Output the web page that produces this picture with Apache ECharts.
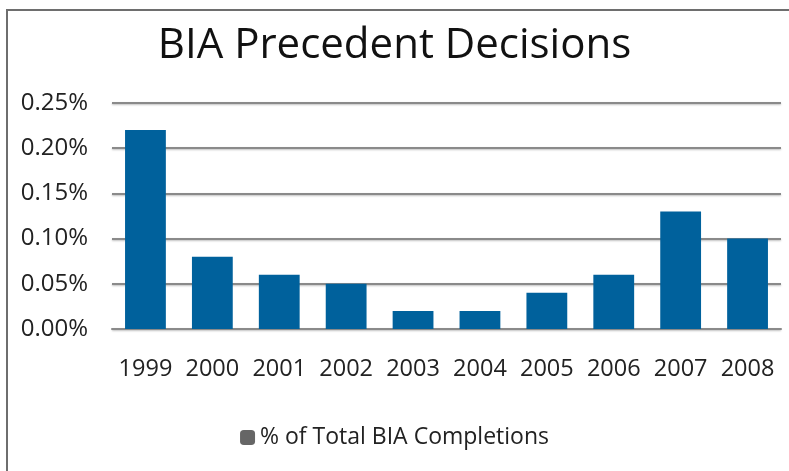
<!DOCTYPE html>
<html>
<head>
<meta charset="utf-8">
<script src="https://cdn.jsdelivr.net/npm/echarts@6/dist/echarts.min.js"></script>
<style>
  html, body { margin: 0; padding: 0; background: #fff; }
  #chart { width: 789px; height: 471px; }
</style>
</head>
<body>
<div id="chart"></div>
<script>
const years = ["1999", "2000", "2001", "2002", "2003", "2004", "2005", "2006", "2007", "2008"];
const pctOfCompletions = [0.22, 0.08, 0.06, 0.05, 0.02, 0.02, 0.04, 0.06, 0.13, 0.10];
const seriesName = "% of Total BIA Completions";
const titleText = "BIA Precedent Decisions";

const font = "'Open Sans', sans-serif";

const chart = echarts.init(document.getElementById("chart"), null, { renderer: "canvas" });

const option = {
  animation: false,
  backgroundColor: "#fff",
  title: {
    text: titleText,
    left: "center",
    top: 20,
    textStyle: { fontFamily: font, fontSize: 42, fontWeight: "normal", color: "#111" }
  },
  graphic: [
    {
      type: "rect",
      shape: { x: 7, y: 10, width: 800, height: 480 },
      style: { fill: "none", stroke: "#6e6e6e", lineWidth: 2 },
      silent: true
    }
  ],
  legend: {
    bottom: 17,
    left: "center",
    itemWidth: 15,
    itemHeight: 15,
    itemGap: 6,
    textStyle: { fontFamily: font, fontSize: 23, color: "#222" },
    data: [{ name: seriesName, itemStyle: { color: "#666" } }]
  },
  grid: { left: 112, right: 8, top: 103, bottom: 142 },
  xAxis: {
    type: "category",
    data: years,
    axisLine: { show: true, lineStyle: { color: "#8a8a8a", width: 2 } },
    axisTick: { show: false },
    axisLabel: { interval: 0, fontFamily: font, fontSize: 23.5, color: "#222", margin: 28 }
  },
  yAxis: {
    type: "value",
    min: 0,
    max: 0.25,
    interval: 0.05,
    axisLine: { show: false },
    axisTick: { show: false },
    axisLabel: {
      fontFamily: font,
      fontSize: 24,
      color: "#222",
      margin: 24,
      formatter: v => v.toFixed(2) + "%"
    },
    splitLine: {
      lineStyle: { color: "#8a8a8a", width: 2, shadowColor: "rgba(0,0,0,0.25)", shadowBlur: 2, shadowOffsetY: 1 }
    }
  },
  series: [
    {
      name: seriesName,
      type: "bar",
      data: pctOfCompletions,
      barWidth: "61%",
      itemStyle: { color: "#00619c" }
    }
  ]
};

chart.setOption(option);
</script>
</body>
</html>
